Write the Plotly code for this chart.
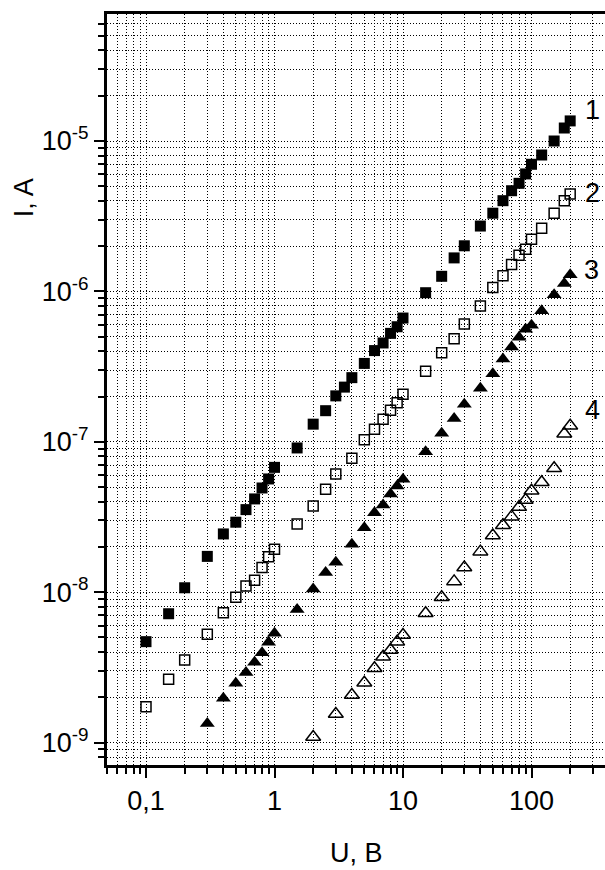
import plotly.graph_objects as go

# ---- data ----
U1 = [0.1, 0.15, 0.2, 0.3, 0.4, 0.5, 0.6, 0.7, 0.8, 0.9, 1, 1.5, 2, 2.5, 3, 3.5, 4, 5, 6, 7, 8, 9, 10,
      15, 20, 25, 30, 40, 50, 60, 70, 80, 90, 100, 120, 150, 180, 200]
I1 = [4.69e-9, 7.19e-9, 1.07e-8, 1.73e-8, 2.44e-8, 2.92e-8, 3.54e-8, 4.17e-8, 4.93e-8, 5.66e-8, 6.76e-8,
      9.1e-8, 1.31e-7, 1.61e-7, 2.02e-7, 2.31e-7, 2.67e-7, 3.32e-7, 4.04e-7, 4.54e-7, 5.26e-7, 5.82e-7, 6.65e-7,
      9.8e-7, 1.26e-6, 1.67e-6, 2.01e-6, 2.72e-6, 3.31e-6, 4.01e-6, 4.67e-6, 5.23e-6, 6.04e-6, 7.0e-6,
      8.07e-6, 1.0e-5, 1.22e-5, 1.36e-5]

U2 = [0.1, 0.15, 0.2, 0.3, 0.4, 0.5, 0.6, 0.7, 0.8, 0.9, 1, 1.5, 2, 2.5, 3, 4, 5, 6, 7, 8, 9, 10,
      15, 20, 25, 30, 40, 50, 60, 70, 80, 90, 100, 120, 150, 180, 200]
I2 = [1.73e-9, 2.64e-9, 3.54e-9, 5.26e-9, 7.3e-9, 9.25e-9, 1.10e-8, 1.20e-8, 1.46e-8, 1.72e-8, 1.93e-8,
      2.84e-8, 3.74e-8, 4.83e-8, 6.1e-8, 7.76e-8, 1.03e-7, 1.21e-7, 1.41e-7, 1.62e-7, 1.82e-7, 2.07e-7,
      2.94e-7, 3.91e-7, 4.85e-7, 6.07e-7, 8.0e-7, 1.06e-6, 1.27e-6, 1.51e-6, 1.74e-6, 1.91e-6, 2.22e-6,
      2.63e-6, 3.31e-6, 4.01e-6, 4.44e-6]

U3 = [0.3, 0.4, 0.5, 0.6, 0.7, 0.8, 0.9, 1, 1.5, 2, 2.5, 3, 4, 5, 6, 7, 8, 9, 10,
      15, 20, 25, 30, 40, 50, 60, 70, 80, 90, 100, 120, 150, 180, 200]
I3 = [1.34e-9, 1.97e-9, 2.48e-9, 2.92e-9, 3.42e-9, 3.96e-9, 4.65e-9, 5.33e-9, 7.66e-9, 1.05e-8, 1.35e-8,
      1.58e-8, 2.08e-8, 2.68e-8, 3.38e-8, 3.80e-8, 4.50e-8, 5.08e-8, 5.63e-8, 8.6e-8, 1.14e-7, 1.43e-7,
      1.78e-7, 2.27e-7, 2.83e-7, 3.55e-7, 4.27e-7, 4.95e-7, 5.60e-7, 5.95e-7, 7.44e-7, 9.5e-7, 1.13e-6, 1.29e-6]

U4 = [2, 3, 4, 5, 6, 7, 8, 9, 10, 15, 20, 25, 30, 40, 50, 60, 70, 80, 90, 100, 120, 150, 180, 200]
I4 = [1.09e-9, 1.55e-9, 2.07e-9, 2.50e-9, 3.12e-9, 3.72e-9, 4.13e-9, 4.69e-9, 5.19e-9, 7.24e-9, 9.25e-9,
      1.18e-8, 1.46e-8, 1.86e-8, 2.38e-8, 2.79e-8, 3.18e-8, 3.68e-8, 4.10e-8, 4.73e-8, 5.38e-8, 6.67e-8,
      1.13e-7, 1.28e-7]

series_labels = ["1", "2", "3", "4"]
x_tickvals = [0.1, 1, 10, 100]
x_ticktext = ["0,1", "1", "10", "100"]
y_tickvals = [1e-9, 1e-8, 1e-7, 1e-6, 1e-5]
y_ticktext = ["10<sup>-9</sup>", "10<sup>-8</sup>", "10<sup>-7</sup>", "10<sup>-6</sup>", "10<sup>-5</sup>"]

FONT = "Arial, Liberation Sans, sans-serif"

fig = go.Figure()
fig.add_trace(go.Scatter(x=U1, y=I1, mode="markers",
                         marker=dict(symbol="square", size=11, color="black", line=dict(width=0))))
fig.add_trace(go.Scatter(x=U2, y=I2, mode="markers",
                         marker=dict(symbol="square-open", size=10, color="black", line=dict(width=1.5))))
fig.add_trace(go.Scatter(x=U3, y=I3, mode="markers",
                         marker=dict(symbol="triangle-up", size=13, color="black", line=dict(width=0))))
fig.add_trace(go.Scatter(x=U4, y=I4, mode="markers",
                         marker=dict(symbol="triangle-up-open", size=13, color="black", line=dict(width=1.5))))

x_minor = [m * 10.0 ** e for e in range(-2, 3) for m in range(2, 10)]
y_minor = [m * 10.0 ** e for e in range(-10, -4) for m in range(2, 10)]

grid = dict(showgrid=True, gridcolor="black", gridwidth=1, griddash="1px,2px")

fig.update_xaxes(type="log", range=[-1.3035, 2.572],
                 showline=True, linecolor="black", linewidth=3, mirror=True,
                 ticks="outside", ticklen=10, tickwidth=2, tickcolor="black",
                 tickmode="array", tickvals=x_tickvals, ticktext=x_ticktext,
                 tickfont=dict(family=FONT, size=27, color="black"),
                 minor=dict(tickmode="array", tickvals=x_minor, ticks="outside", ticklen=6,
                            tickwidth=2, tickcolor="black", **grid),
                 zeroline=False, **grid)
fig.update_yaxes(type="log", range=[-9.149, -4.1556],
                 showline=True, linecolor="black", linewidth=3, mirror=False,
                 ticks="outside", ticklen=10, tickwidth=2, tickcolor="black",
                 tickmode="array", tickvals=y_tickvals, ticktext=y_ticktext,
                 tickfont=dict(family=FONT, size=27, color="black"),
                 minor=dict(tickmode="array", tickvals=y_minor, ticks="outside", ticklen=6,
                            tickwidth=2, tickcolor="black", **grid),
                 zeroline=False, **grid)

annotations = [
    dict(text="U, B", xref="paper", yref="paper", x=0.5, y=-0.117, showarrow=False,
         xanchor="center", yanchor="middle", font=dict(family=FONT, size=27, color="black")),
    dict(text="I, A", xref="paper", yref="paper", x=-0.1667, y=0.756, showarrow=False, textangle=-90,
         xanchor="center", yanchor="middle", font=dict(family=FONT, size=27, color="black")),
]
label_pos = [(2.477, -4.794), (2.477, -5.346), (2.470, -5.858), (2.477, -6.789)]
for lab, (lx, ly) in zip(series_labels, label_pos):
    annotations.append(dict(text=lab, xref="x", yref="y", x=lx, y=ly, showarrow=False,
                            xanchor="center", yanchor="middle",
                            font=dict(family=FONT, size=27, color="black")))

fig.update_layout(width=605, height=870, autosize=False,
                  margin=dict(l=107, r=0, t=14, b=105),
                  paper_bgcolor="white", plot_bgcolor="white",
                  showlegend=False, annotations=annotations)

fig.write_html("out.html", config={"displayModeBar": False},
               post_script="document.body.style.margin='0';document.body.style.overflow='hidden';")
